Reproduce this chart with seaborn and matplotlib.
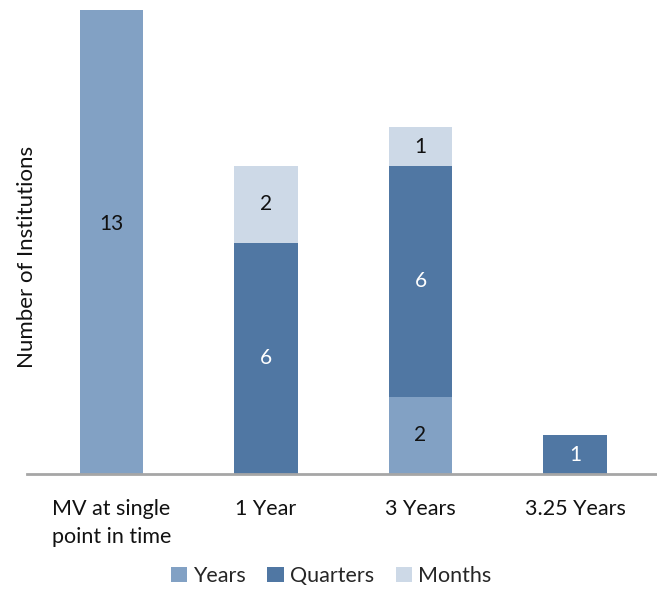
import matplotlib
matplotlib.use("Agg")
import matplotlib.pyplot as plt
import seaborn as sns
import pandas as pd
import numpy as np
from matplotlib.patches import Patch

sns.set_theme(style="white")
plt.rcParams["font.family"] = ["Lato", "DejaVu Sans"]

# Data
categories = ["MV at single\npoint in time", "1 Year", "3 Years", "3.25 Years"]
years = [13, 0, 2, 0]
quarters = [0, 6, 6, 1]
months = [0, 2, 1, 0]

series_names = ["Years", "Quarters", "Months"]
series_values = [years, quarters, months]
series_colors = ["#82A1C4", "#5077A3", "#CDD9E7"]
label_colors = ["#111111", "white", "#111111"]

df = pd.DataFrame({"category": categories, "Years": years,
                   "Quarters": quarters, "Months": months})

fig = plt.figure(figsize=(6.57, 5.89), dpi=100)
ax = fig.add_axes([27 / 657, 1 - 474 / 589, 1 - 27 / 657, (474 - 10) / 589])

bottom = np.zeros(len(categories))
for name, vals, col, lcol in zip(series_names, series_values, series_colors, label_colors):
    sns.barplot(data=df, x="category", y=name, color=col, width=0.41,
                bottom=bottom, ax=ax, saturation=1, linewidth=0)
    # value labels at the middle of each stacked segment
    for i, v in enumerate(vals):
        if v > 0:
            ax.text(i, bottom[i] + v / 2, str(v), ha="center", va="center",
                    color=lcol, fontsize=15)
    bottom = bottom + np.array(vals)

ax.set_ylim(0, 12.05)
ax.set_xlim(-0.545, 3.53)
ax.set_xlabel("")
ax.set_ylabel("Number of Institutions", fontsize=16, color="#111111")
ax.yaxis.set_label_coords(10 / 630, (474 - 256.5) / 464)
ax.set_yticks([])
for s in ["top", "right", "left"]:
    ax.spines[s].set_visible(False)
ax.spines["bottom"].set_color("#A6A6A6")
ax.spines["bottom"].set_linewidth(2)
ax.tick_params(axis="x", length=0, pad=18, labelsize=15.5, colors="#111111")
for lbl in ax.get_xticklabels():
    lbl.set_linespacing(1.5)

handles = [Patch(facecolor=c, edgecolor="none") for c in series_colors]
fig.legend(handles, series_names, loc="center", bbox_to_anchor=(331 / 657, 1 - 576 / 589),
           ncol=3, frameon=False, fontsize=15.5, handlelength=0.75, handleheight=0.75,
           handletextpad=0.3, columnspacing=1.0, borderaxespad=0, borderpad=0)

fig.savefig("out.png", dpi=100)
